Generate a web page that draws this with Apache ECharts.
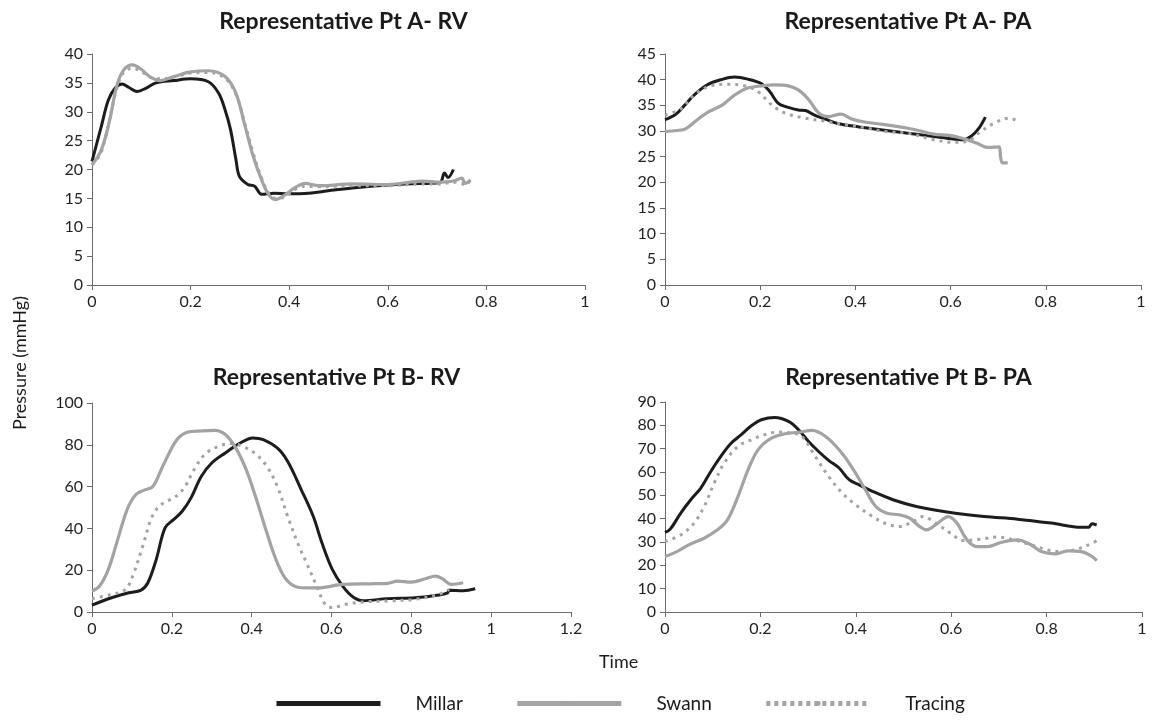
<!DOCTYPE html>
<html>
<head>
<meta charset="utf-8">
<script src="https://cdn.jsdelivr.net/npm/echarts@6/dist/echarts.min.js"></script>
<style>
html,body{margin:0;padding:0;background:#fff;}
#chart{width:1159px;height:720px;}
</style>
</head>
<body>
<div id="chart"></div>
<script>
// ---- Data (time s, pressure mmHg) ----
const panelTitles = ['Representative Pt A- RV', 'Representative Pt A- PA', 'Representative Pt B- RV', 'Representative Pt B- PA'];
const seriesNames = ['Millar', 'Swann', 'Tracing'];
const xMaxes = [1, 1, 1.2, 1];
const yMaxes = [40, 45, 100, 90];
const yIntervals = [5, 5, 20, 10];

const aRvMillar = [[0,21.4],[0.019,27.5],[0.033,32],[0.047,34.1],[0.061,34.8],[0.075,34.2],[0.092,33.5],[0.11,34.1],[0.13,35],[0.166,35.4],[0.2,35.7],[0.236,35.2],[0.257,33.2],[0.27,30.3],[0.281,26.9],[0.292,21.7],[0.299,18.8],[0.316,17.4],[0.33,17.1],[0.344,15.7],[0.369,15.9],[0.397,15.8],[0.439,15.9],[0.495,16.5],[0.565,17.1],[0.635,17.5],[0.705,17.7],[0.715,19.4],[0.722,18.6],[0.733,20]];
const aRvSwann = [[0,20.8],[0.019,23.4],[0.036,28.6],[0.05,34.4],[0.064,37.2],[0.082,38.1],[0.099,37.4],[0.117,36.1],[0.138,35.4],[0.166,36.1],[0.2,36.9],[0.236,37.1],[0.27,36.1],[0.292,33.2],[0.309,28],[0.327,22.3],[0.344,18.2],[0.358,15.7],[0.372,14.8],[0.39,15.5],[0.411,16.8],[0.432,17.6],[0.46,17.2],[0.53,17.5],[0.6,17.4],[0.67,18],[0.705,17.8],[0.733,18],[0.75,18.5],[0.757,17.6],[0.768,18.2]];
const aRvTracing = [[0,20.8],[0.019,23],[0.05,34],[0.064,36.8],[0.082,37.5],[0.1,37],[0.117,36],[0.138,35.7],[0.166,36],[0.2,36.7],[0.236,36.8],[0.27,35.8],[0.292,33],[0.309,28.3],[0.327,22.8],[0.344,18.5],[0.358,16],[0.372,15],[0.39,15.2],[0.411,16.5],[0.432,17.1],[0.46,17],[0.53,17.2],[0.6,17.2],[0.67,17.5],[0.705,17.5],[0.733,17.8],[0.75,17.6],[0.757,17.2],[0.768,18.3]];

const aPaMillar = [[0,32.2],[0.022,33.2],[0.04,34.9],[0.061,37],[0.089,39],[0.118,40],[0.146,40.5],[0.174,40.1],[0.203,39.2],[0.22,37.7],[0.238,35.4],[0.259,34.6],[0.28,34.1],[0.295,34],[0.312,33.2],[0.337,32.3],[0.365,31.4],[0.408,30.8],[0.457,30.2],[0.507,29.6],[0.55,29.1],[0.592,28.6],[0.627,28.3],[0.645,29.1],[0.66,30.6],[0.673,32.7]];
const aPaSwann = [[0,29.9],[0.025,30.1],[0.043,30.4],[0.068,32.2],[0.093,33.8],[0.121,35.1],[0.146,37],[0.171,38.3],[0.203,38.8],[0.231,39],[0.259,38.8],[0.28,38],[0.302,36.1],[0.323,33.5],[0.344,32.8],[0.369,33.3],[0.394,32.3],[0.422,31.7],[0.457,31.3],[0.493,30.8],[0.528,30.2],[0.564,29.4],[0.6,29.1],[0.635,28.3],[0.656,27.6],[0.677,26.8],[0.702,26.9],[0.705,25],[0.709,23.8],[0.72,23.8]];
const aPaTracing = [[0,33.1],[0.033,34.3],[0.061,37],[0.096,38.8],[0.132,39.1],[0.167,38.8],[0.195,37.7],[0.224,35.1],[0.252,33.5],[0.295,32.5],[0.337,31.9],[0.38,31.2],[0.422,30.6],[0.465,29.9],[0.514,29.5],[0.564,28.3],[0.606,27.8],[0.635,28],[0.663,29.9],[0.691,31.5],[0.723,32.5],[0.744,31.7]];

const bRvMillar = [[0,3.3],[0.049,6.8],[0.092,9.2],[0.123,10.5],[0.14,14],[0.161,25.2],[0.183,40.3],[0.205,44.3],[0.226,48.2],[0.248,54.6],[0.274,65],[0.3,71.3],[0.334,76.1],[0.369,80.6],[0.403,83.3],[0.429,82.5],[0.464,78.5],[0.49,72.1],[0.524,58.6],[0.554,45.9],[0.576,33.1],[0.602,20.4],[0.628,12.4],[0.654,7.2],[0.679,5.4],[0.74,6.4],[0.809,6.8],[0.869,8.1],[0.891,9.2],[0.895,10.4],[0.93,10.2],[0.96,11.1]];
const bRvSwann = [[0,10],[0.019,12.4],[0.041,20.4],[0.062,33.1],[0.088,49],[0.11,56.2],[0.131,58.3],[0.153,60.2],[0.179,70.5],[0.213,82.5],[0.239,86],[0.274,86.6],[0.308,86.9],[0.334,84.9],[0.36,78.5],[0.386,68.2],[0.412,53.8],[0.438,37.9],[0.464,23.6],[0.49,14.8],[0.524,11.6],[0.567,11.5],[0.628,13.2],[0.697,13.5],[0.74,13.7],[0.766,14.8],[0.8,14.3],[0.835,15.9],[0.861,17.2],[0.878,15.9],[0.9,13.2],[0.93,14]];
const bRvTracing = [[0,6.4],[0.049,8.4],[0.084,10.8],[0.105,18.8],[0.127,31.5],[0.153,46.7],[0.179,52.2],[0.205,54.6],[0.231,59.4],[0.256,68.2],[0.282,75.3],[0.317,79.3],[0.351,80.6],[0.386,78.5],[0.412,75.3],[0.438,69.7],[0.464,60.2],[0.49,45.9],[0.515,33.1],[0.541,22],[0.563,12.4],[0.584,3.7],[0.602,2.1],[0.636,3.7],[0.679,4.8],[0.74,5.3],[0.809,6.1],[0.869,8.4],[0.895,10.8]];

const bPaMillar = [[0,34.1],[0.011,35.5],[0.033,42.4],[0.054,48.1],[0.075,53.1],[0.096,60.2],[0.117,66.7],[0.139,72.4],[0.16,76],[0.181,79.8],[0.202,82.4],[0.23,83.4],[0.259,81.7],[0.28,78.1],[0.301,73.1],[0.322,68.8],[0.343,65],[0.365,61.7],[0.386,56.7],[0.407,54.5],[0.435,51.7],[0.478,48.1],[0.527,45.2],[0.598,42.6],[0.669,40.9],[0.739,39.8],[0.81,38.1],[0.873,36.3],[0.888,36.3],[0.895,37.8],[0.905,37.3]];
const bPaSwann = [[0,23.8],[0.025,25.9],[0.054,29.2],[0.082,31.6],[0.11,35.2],[0.131,39.5],[0.153,49.5],[0.174,60.9],[0.195,69.5],[0.223,74.5],[0.252,76.4],[0.28,77],[0.308,77.8],[0.336,75.3],[0.365,69.5],[0.393,61.7],[0.42,52.4],[0.442,45.2],[0.464,42.4],[0.492,41.6],[0.513,40.2],[0.534,36.6],[0.548,35.2],[0.57,37.8],[0.594,40.9],[0.612,38.1],[0.633,30.9],[0.654,28],[0.676,28],[0.704,29.8],[0.739,30.9],[0.767,28.8],[0.789,25.9],[0.817,24.9],[0.845,26.2],[0.873,25.9],[0.895,23.8],[0.905,22]];
const bPaTracing = [[0,30.2],[0.033,33],[0.061,38.1],[0.082,45.2],[0.103,55.2],[0.124,63.8],[0.153,71],[0.181,73.8],[0.209,76],[0.237,77.1],[0.266,76.7],[0.287,75.3],[0.315,66.7],[0.343,58.1],[0.372,50.9],[0.4,45.9],[0.435,40.9],[0.464,37.8],[0.492,36.6],[0.52,38.8],[0.541,40.9],[0.563,38.8],[0.598,33.8],[0.626,30.6],[0.661,31.2],[0.697,32.1],[0.732,30.9],[0.767,28.8],[0.803,26.6],[0.831,25.9],[0.859,26.6],[0.888,28.8],[0.909,30.9]];

const panelData = [
  [aRvMillar, aRvSwann, aRvTracing],
  [aPaMillar, aPaSwann, aPaTracing],
  [bRvMillar, bRvSwann, bRvTracing],
  [bPaMillar, bPaSwann, bPaTracing]
];

// ---- Layout & style ----
const FONT = 'Lato';
const grids = [
  {left: 92, top: 54, width: 493, height: 231},
  {left: 665, top: 54, width: 476, height: 231},
  {left: 92, top: 403, width: 479, height: 209},
  {left: 665, top: 402, width: 477, height: 210}
];
const axisColor = '#6b6b6b';
const labelColor = '#1f1f1f';
const lineStyles = [
  {color: '#1c1c1c', width: 3, type: 'solid'},
  {color: '#a3a3a3', width: 3.2, type: 'solid'},
  {color: '#a3a3a3', width: 3, type: [3, 5]}
];

const xAxes = grids.map((g, i) => ({
  type: 'value', gridIndex: i, min: 0, max: xMaxes[i], interval: 0.2,
  axisLine: {show: true, onZero: false, lineStyle: {color: axisColor, width: 1}},
  axisTick: {show: true, inside: false, length: 5, lineStyle: {color: axisColor}},
  splitLine: {show: false},
  axisLabel: {color: labelColor, fontFamily: FONT, fontSize: 16, margin: 9,
    formatter: v => String(Math.round(v * 10) / 10)}
}));
const yAxes = grids.map((g, i) => ({
  type: 'value', gridIndex: i, min: 0, max: yMaxes[i], interval: yIntervals[i],
  axisLine: {show: true, lineStyle: {color: axisColor, width: 1}},
  axisTick: {show: true, inside: false, length: 5, lineStyle: {color: axisColor}},
  splitLine: {show: false},
  axisLabel: {color: labelColor, fontFamily: FONT, fontSize: 16, margin: 9}
}));

const series = [];
panelData.forEach((sets, p) => {
  sets.forEach((d, k) => {
    series.push({
      name: seriesNames[k], type: 'line', xAxisIndex: p, yAxisIndex: p,
      data: d, smooth: 0.35, showSymbol: false, symbol: 'none',
      lineStyle: Object.assign({cap: 'butt'}, lineStyles[k]),
      itemStyle: {color: lineStyles[k].color},
      z: 2 + k, animation: false
    });
  });
});

const titleCenters = grids.map(g => g.left + g.width / 2);
const titles = panelTitles.map((t, i) => ({
  text: t, left: titleCenters[i], top: i < 2 ? 5 : 361, textAlign: 'center',
  textStyle: {fontFamily: FONT, fontWeight: 'bold', fontSize: 23, color: '#1a1a1a'}
}));

const chart = echarts.init(document.getElementById('chart'), null, {renderer: 'canvas'});
chart.setOption({
  backgroundColor: '#ffffff',
  animation: false,
  title: titles,
  grid: grids,
  xAxis: xAxes,
  yAxis: yAxes,
  series: series,
  legend: {
    bottom: 2, left: 269,
    itemWidth: 104, itemHeight: 6, itemGap: 52,
    textStyle: {fontFamily: FONT, fontSize: 19, color: '#1a1a1a', padding: [0, 0, 0, 30]},
    data: [
      {name: 'Millar', lineStyle: {width: 5, type: 'solid', color: '#1c1c1c'}},
      {name: 'Swann', lineStyle: {width: 5, type: 'solid', color: '#a3a3a3'}},
      {name: 'Tracing', lineStyle: {width: 5, type: [4, 4], color: '#a3a3a3'}}
    ]
  },
  graphic: [
    {type: 'text', left: 599, top: 653, style: {text: 'Time', fontFamily: FONT, fontSize: 18, fill: '#1a1a1a'}},
    {type: 'text', x: 11, y: 430, rotation: Math.PI / 2,
      style: {text: 'Pressure (mmHg)', fontFamily: FONT, fontSize: 18, fill: '#1a1a1a', verticalAlign: 'top', align: 'left'}}
  ]
});
</script>
</body>
</html>
